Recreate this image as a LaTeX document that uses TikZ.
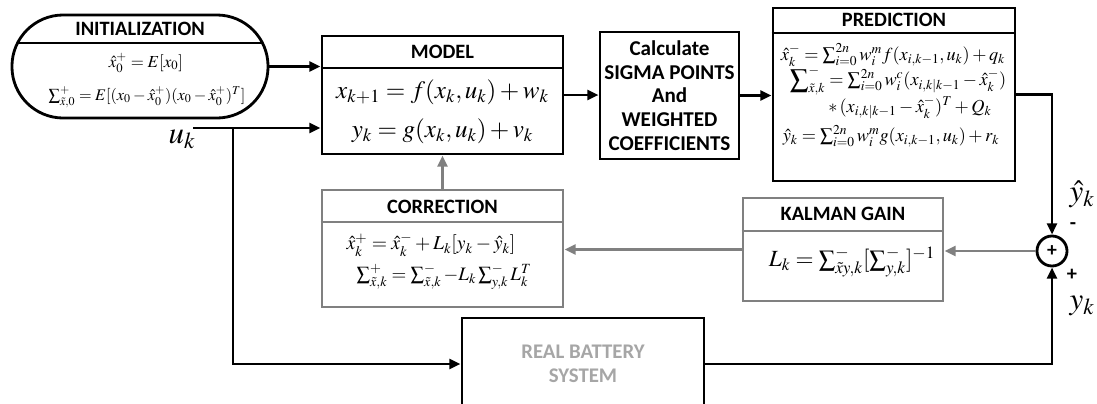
\documentclass[tikz,border=0pt]{standalone}
\usepackage{mathptmx}
\usepackage[no-math]{fontspec}
\setmainfont{Liberation Serif}
\newfontfamily\boxfont{Carlito}
\usetikzlibrary{arrows.meta}

\definecolor{boxgray}{HTML}{808080}
\definecolor{txtgray}{HTML}{A6A6A6}

\begin{document}
\begin{tikzpicture}[
    x=0.025cm, y=-0.025cm,
    blk/.style={rectangle, draw=black, line width=2pt, fill=white, inner sep=0pt},
    gblk/.style={blk, draw=boxgray},
    heading/.style={inner sep=0pt, font=\boxfont\fontsize{14.5}{16}\selectfont\bfseries},
    eqn/.style={inner sep=0pt, font=\fontsize{13}{15}\selectfont},
    bigeqn/.style={inner sep=0pt, font=\fontsize{17.8}{20}\selectfont},
    lbl/.style={inner sep=0pt, font=\fontsize{22}{24}\selectfont},
    divider/.style={line width=1pt},
    arrow/.style={-{Triangle[length=8pt,width=7pt]}, line width=2pt},
    garrow/.style={arrow, draw=boxgray}
]
    \useasboundingbox (0,0) rectangle (1097,403);
    \clip (0,0) rectangle (1097,403);

    % filter blocks
    \node[blk, rounded corners=1.28cm, minimum width=6.4cm, minimum height=2.575cm] (init) at (140,66.5) {};
    \node[blk, minimum width=6.025cm, minimum height=2.95cm] (model) at (442.5,95) {};
    \node[blk, minimum width=3.475cm, minimum height=3.175cm, align=center,
          font=\boxfont\fontsize{15}{16.8}\selectfont\bfseries] (sigma) at (669.5,95.5)
          {Calculate\\SIGMA POINTS\\And\\WEIGHTED\\COEFFICIENTS};
    \node[blk, minimum width=6.05cm, minimum height=4.325cm] (pred) at (894,94.5) {};
    \node[gblk, minimum width=5cm, minimum height=2.575cm] (kalman) at (843,249.5) {};
    \node[gblk, minimum width=6.025cm, minimum height=2.925cm] (corr) at (442.5,248.5) {};
    \node[blk, minimum width=6.05cm, minimum height=2.3cm, align=center, text=txtgray,
          font=\boxfont\fontsize{14.8}{17}\selectfont\bfseries] (batt) at (583,364)
          {REAL BATTERY\\SYSTEM};
    \node[circle, draw, line width=2pt, minimum size=0.75cm, inner sep=0pt,
          font=\boxfont\fontsize{14}{14}\selectfont\bfseries] (sum) at (1052,251) {+};

    % dividers
    \draw[divider] (18,43) -- (262,43);
    \draw[divider] (model.west |- 0,68) -- (model.east |- 0,68);
    \draw[divider] (pred.west |- 0,33) -- (pred.east |- 0,33);
    \draw[divider, boxgray] (kalman.west |- 0,231) -- (kalman.east |- 0,231);
    \draw[divider, boxgray] (corr.west |- 0,222) -- (corr.east |- 0,222);

    % headings
    \node[heading] (initT) at (140,29) {INITIALIZATION};
    \node[heading] (modelT) at (442.5,52) {MODEL};
    \node[heading] (predT) at (894,20) {PREDICTION};
    \node[heading] (kalmanT) at (843,214) {KALMAN GAIN};
    \node[heading] (corrT) at (442.5,207) {CORRECTION};

    % equations
    \node[eqn, font=\fontsize{12}{14}\selectfont] (init1) at (146,63) {$\hat{x}_0^+ = E[x_0]$};
    \node[eqn, font=\fontsize{11.5}{14}\selectfont] (init2) at (147,97)
          {$\sum_{\tilde{x},0}^{+} = E[(x_0-\hat{x}_0^+)(x_0-\hat{x}_0^+)^T]$};
    \node[bigeqn] (model1) at (442.5,92) {$x_{k+1} = f(x_k,u_k) + w_k$};
    \node[bigeqn] (model2) at (442.5,131) {$y_k = g(x_k,u_k) + v_k$};
    \node[eqn] (pred1) at (893,55) {$\hat{x}_k^- = \sum_{i=0}^{2n} w_i^m f(x_{i,k-1},u_k) + q_k$};
    \node[eqn] (pred2) at (898,81)
          {$\mathop{\displaystyle\sum}\nolimits_{\tilde{x},k}^{-} = \sum_{i=0}^{2n} w_i^c (x_{i,k|k-1} - \hat{x}_k^-)$};
    \node[eqn] (pred3) at (910,108) {$*\,(x_{i,k|k-1} - \hat{x}_k^-)^T + Q_k$};
    \node[eqn] (pred4) at (891,136) {$\hat{y}_k = \sum_{i=0}^{2n} w_i^m g(x_{i,k-1},u_k) + r_k$};
    \node[eqn, font=\fontsize{16.5}{18}\selectfont] (kalman1) at (852,262)
          {$L_k = \sum_{\tilde{x}y,k}^{-} [\sum_{y,k}^{-}]^{-1}$};
    \node[eqn, font=\fontsize{14}{16}\selectfont] (corr1) at (431,245)
          {$\hat{x}_k^+ = \hat{x}_k^- + L_k[y_k - \hat{y}_k]$};
    \node[eqn, font=\fontsize{13.5}{16}\selectfont] (corr2) at (444,277)
          {$\sum_{\tilde{x},k}^{+} = \sum_{\tilde{x},k}^{-} - L_k \sum_{y,k}^{-} L_k^T$};

    % signal labels
    \node[lbl] (ulbl) at (182,139) {$u_k$};
    \node[lbl] (yhatlbl) at (1082,194) {$\hat{y}_k$};
    \node[lbl] (ylbl) at (1082,306) {$y_k$};
    \node[heading] (minus) at (1073,226) {-};
    \node[heading] (plus) at (1072,275) {+};

    % connections
    \coordinate (uin) at (193,128);
    \coordinate (ubr) at (233,128);
    \draw[arrow] (init.east) -- (init.east -| model.west);
    \draw[arrow] (uin) -- (uin -| model.west);
    \draw[arrow] (ubr) |- (batt.west);
    \draw[arrow] (model.east) -- (model.east -| sigma.west);
    \draw[arrow] (sigma.east) -- (sigma.east -| pred.west);
    \draw[arrow] (pred.east) -| (sum.north);
    \draw[arrow] (batt.east) -| (sum.south);
    \draw[garrow] (sum.west) -- (sum.west -| kalman.east);
    \draw[garrow] (kalman.west) -- (kalman.west -| corr.east);
    \draw[garrow] (corr.north) -- (model.south);
\end{tikzpicture}
\end{document}
